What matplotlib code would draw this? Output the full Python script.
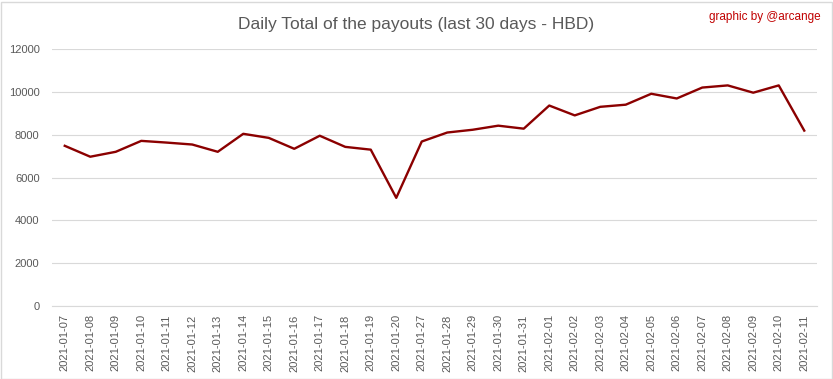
import matplotlib
matplotlib.use("Agg")
import matplotlib.pyplot as plt
from matplotlib import font_manager

dates = ["2021-01-07", "2021-01-08", "2021-01-09", "2021-01-10", "2021-01-11",
         "2021-01-12", "2021-01-13", "2021-01-14", "2021-01-15", "2021-01-16",
         "2021-01-17", "2021-01-18", "2021-01-19", "2021-01-20", "2021-01-27",
         "2021-01-28", "2021-01-29", "2021-01-30", "2021-01-31", "2021-02-01",
         "2021-02-02", "2021-02-03", "2021-02-04", "2021-02-05", "2021-02-06",
         "2021-02-07", "2021-02-08", "2021-02-09", "2021-02-10", "2021-02-11"]
payouts = [7480, 6970, 7200, 7710, 7630, 7540, 7200, 8040, 7850, 7340,
           7950, 7430, 7300, 5050, 7680, 8100, 8230, 8420, 8280, 9360,
           8900, 9300, 9400, 9910, 9690, 10200, 10300, 9960, 10300, 8190]
yticks = [0, 2000, 4000, 6000, 8000, 10000, 12000]

names = {f.name for f in font_manager.fontManager.ttflist}
fam = "Liberation Sans Narrow" if "Liberation Sans Narrow" in names else "Liberation Sans"
plt.rcParams["font.family"] = [fam, "DejaVu Sans"]

fig = plt.figure(figsize=(8.33, 3.79), dpi=100)
ax = fig.add_axes([52 / 833, 1 - 306 / 379, (817 - 52) / 833, (306 - 49) / 379])

x = list(range(len(dates)))
ax.plot(x, payouts, color="#8b0000", linewidth=1.7, solid_joinstyle="round")
ax.set_xlim(-0.5, len(dates) - 0.5)
ax.set_ylim(0, 12000)
ax.set_yticks(yticks)
ax.set_yticklabels([str(v) for v in yticks])
ax.set_xticks(x)
ax.set_xticklabels(dates, rotation=90)
ax.grid(axis="y", color="#d9d9d9", linewidth=0.8)
ax.set_axisbelow(True)
for s in ["top", "right", "left"]:
    ax.spines[s].set_visible(False)
ax.spines["bottom"].set_color("#d9d9d9")
ax.spines["bottom"].set_linewidth(0.8)
ax.tick_params(axis="both", length=0, colors="#595959", labelsize=8)
ax.tick_params(axis="y", pad=9)
ax.tick_params(axis="x", pad=6)

fig.text(0.5, 1 - 24 / 379, "Daily Total of the payouts (last 30 days - HBD)",
         ha="center", va="center", fontsize=12.5, color="#595959")
fig.text(821 / 833, 1 - 17 / 379, "graphic by @arcange", ha="right", va="center",
         fontsize=8.5, color="#c00000")

border = plt.Rectangle((0.5 / 833, 0.5 / 379), 831 / 833, 377 / 379, transform=fig.transFigure,
                       fill=False, edgecolor="#d9d9d9", linewidth=1)
fig.patches.append(border)

fig.savefig("out.png", dpi=100)
